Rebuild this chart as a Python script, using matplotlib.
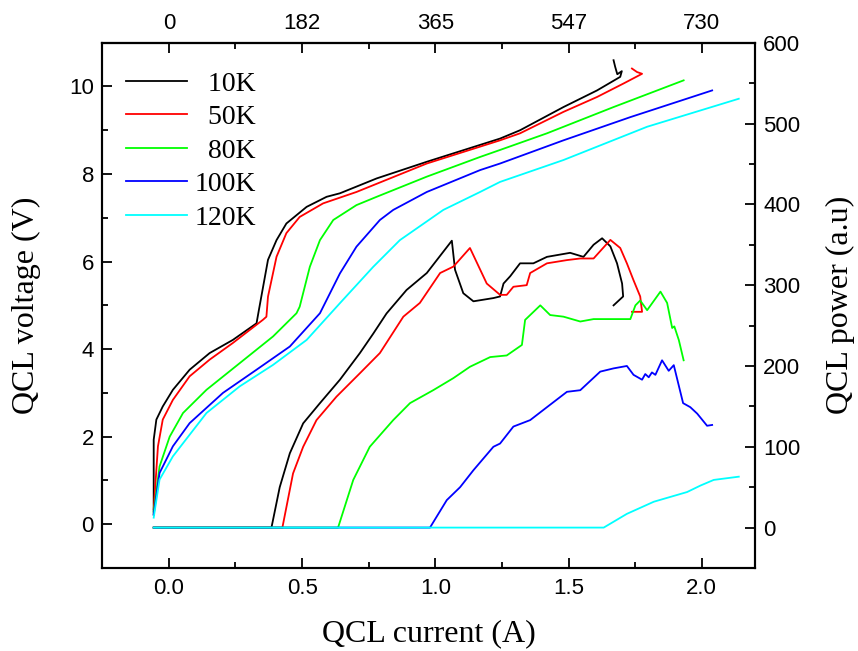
import numpy as np
import matplotlib
matplotlib.use('Agg')
import matplotlib.pyplot as plt

plt.rcParams['font.family'] = ['Liberation Sans', 'DejaVu Sans']

# I-V curves (current A, voltage V)
i_10k = [-0.057, -0.057, -0.047, -0.023, 0.015, 0.078, 0.153, 0.24, 0.329, 0.338, 0.372, 0.404, 0.441,
         0.517, 0.592, 0.642, 0.78, 0.968, 1.243, 1.318, 1.481, 1.607, 1.694, 1.700, 1.683, 1.675, 1.669]
v_10k = [0.22, 1.93, 2.39, 2.69, 3.07, 3.53, 3.91, 4.21, 4.59, 4.9, 6.04, 6.49, 6.87,
         7.25, 7.48, 7.56, 7.9, 8.28, 8.81, 9.0, 9.53, 9.91, 10.22, 10.35, 10.28, 10.45, 10.6]
i_50k = [-0.057, -0.041, -0.023, 0.015, 0.078, 0.153, 0.24, 0.353, 0.366, 0.372, 0.404, 0.441, 0.491,
         0.579, 0.704, 0.968, 1.243, 1.318, 1.481, 1.607, 1.707, 1.776, 1.757, 1.738]
v_50k = [0.34, 1.78, 2.39, 2.84, 3.38, 3.76, 4.14, 4.67, 4.74, 5.2, 6.11, 6.65, 7.02,
         7.33, 7.59, 8.24, 8.77, 8.93, 9.42, 9.76, 10.07, 10.29, 10.33, 10.41]
i_80k = [-0.057, -0.035, 0.003, 0.053, 0.141, 0.266, 0.391, 0.479, 0.491, 0.529, 0.567, 0.617, 0.704,
         0.78, 0.968, 1.168, 1.243, 1.419, 1.669, 1.932]
v_80k = [0.29, 1.32, 2.0, 2.54, 3.07, 3.68, 4.29, 4.82, 4.97, 5.88, 6.49, 6.95, 7.29,
         7.48, 7.94, 8.39, 8.55, 8.93, 9.53, 10.14]
i_100k = [-0.057, -0.035, 0.015, 0.078, 0.203, 0.329, 0.454, 0.567, 0.642, 0.704, 0.792, 0.842,
          0.968, 1.168, 1.243, 1.481, 1.732, 2.039]
v_100k = [0.22, 1.17, 1.78, 2.31, 3.0, 3.53, 4.06, 4.82, 5.73, 6.34, 6.95, 7.18,
          7.59, 8.09, 8.24, 8.77, 9.3, 9.91]
i_120k = [-0.057, -0.035, 0.015, 0.141, 0.266, 0.391, 0.517, 0.642, 0.767, 0.867, 1.03, 1.168,
          1.243, 1.481, 1.795, 2.139]
v_120k = [0.15, 1.02, 1.55, 2.54, 3.15, 3.64, 4.21, 5.05, 5.88, 6.49, 7.18, 7.59,
          7.82, 8.32, 9.08, 9.72]

# L-I curves (current A, power a.u)
pi_10k = [-0.057, 0.385, 0.416, 0.454, 0.504, 0.567, 0.642, 0.717, 0.767, 0.817, 0.892, 0.968, 1.062,
          1.074, 1.105, 1.143, 1.218, 1.243, 1.256, 1.281, 1.318, 1.368, 1.419, 1.506, 1.556, 1.594,
          1.626, 1.657, 1.682, 1.701, 1.705, 1.669]
p_10k = [0, 0, 50, 92, 129, 154, 183, 216, 240, 265, 294, 315, 355,
         319, 290, 280, 284, 286, 302, 311, 327, 327, 335, 340, 335, 350,
         358, 348, 327, 302, 286, 275]
pi_50k = [-0.057, 0.426, 0.466, 0.504, 0.554, 0.629, 0.717, 0.792, 0.88, 0.942, 1.018, 1.068, 1.13,
          1.193, 1.243, 1.268, 1.293, 1.343, 1.356, 1.419, 1.494, 1.544, 1.594, 1.657, 1.694, 1.719,
          1.744, 1.769, 1.776, 1.738]
p_50k = [0, 0, 67, 100, 133, 162, 191, 216, 261, 278, 315, 323, 346,
         302, 288, 288, 298, 300, 315, 327, 331, 333, 333, 356, 346, 327,
         306, 286, 267, 267]
pi_80k = [-0.057, 0.635, 0.692, 0.754, 0.842, 0.905, 0.992, 1.068, 1.13, 1.206, 1.268, 1.325, 1.337,
          1.356, 1.394, 1.431, 1.481, 1.544, 1.594, 1.669, 1.732, 1.751, 1.769, 1.795, 1.845, 1.87,
          1.889, 1.897, 1.914, 1.932]
p_80k = [0, 0, 59, 100, 133, 154, 170, 185, 199, 211, 213, 226, 257,
         263, 275, 263, 261, 255, 258, 258, 258, 275, 281, 269, 292, 278,
         247, 249, 232, 207]
pi_100k = [-0.057, 0.98, 1.043, 1.093, 1.143, 1.218, 1.243, 1.293, 1.356, 1.419, 1.494, 1.544, 1.619,
           1.669, 1.719, 1.744, 1.776, 1.788, 1.801, 1.813, 1.826, 1.851, 1.876, 1.895, 1.93, 1.957,
           1.983, 2.02, 2.039]
p_100k = [0, 0, 34, 50, 71, 100, 104, 125, 133, 149, 168, 170, 193,
          197, 200, 189, 183, 190, 186, 192, 189, 207, 194, 201, 154, 149,
          141, 126, 127]
pi_120k = [-0.057, 1.632, 1.719, 1.82, 1.945, 1.995, 2.045, 2.139]
p_120k = [0, 0, 17, 32, 44, 52, 59, 63]

labels = ['  10K', '  50K', '  80K', '100K', '120K']
colors = ['black', '#FF0000', '#00FF00', '#0000FF', '#00FFFF']

top_ticks = [0, 0.5, 1.0, 1.5, 2.0]
top_labels = ['0', '182', '365', '547', '730']

fig = plt.figure(figsize=(8.58, 6.51), dpi=100)
ax = fig.add_axes([0.1192, 0.1275, 0.7608, 0.8069])
ax2 = ax.twinx()

iv = [(i_10k, v_10k), (i_50k, v_50k), (i_80k, v_80k), (i_100k, v_100k), (i_120k, v_120k)]
li = [(pi_10k, p_10k), (pi_50k, p_50k), (pi_80k, p_80k), (pi_100k, p_100k), (pi_120k, p_120k)]

for (x, y), c, lab in zip(iv, colors, labels):
    ax.plot(x, y, color=c, lw=1.3, label=lab)
for (x, y), c in zip(li, colors):
    ax2.plot(x, y, color=c, lw=1.3)

ax.set_xlim(-0.25, 2.2)
ax.set_ylim(-1, 11)
ax2.set_ylim(-50, 600)

ax.set_xticks([0, 0.5, 1.0, 1.5, 2.0])
ax.set_xticks(np.arange(-0.25, 2.21, 0.25), minor=True)
ax.set_yticks([0, 2, 4, 6, 8, 10])
ax.set_yticks(np.arange(-1, 11.1, 1), minor=True)
ax2.set_yticks([0, 100, 200, 300, 400, 500, 600])
ax2.set_yticks(np.arange(-50, 601, 50), minor=True)

top = ax.secondary_xaxis('top')
top.set_xticks(top_ticks, labels=top_labels)
top.set_xticks(np.arange(0.25, 2.1, 0.5), minor=True)

for a in (ax, ax2, top):
    a.tick_params(which='major', direction='in', length=7, width=1.3, labelsize=16)
    a.tick_params(which='minor', direction='in', length=4, width=1.3)
ax.tick_params(axis='x', pad=7)
ax.tick_params(axis='y', pad=6)
ax2.tick_params(axis='y', pad=6)
top.tick_params(pad=6)

for a in (ax, ax2):
    for s in a.spines.values():
        s.set_linewidth(1.5)
top.spines['top'].set_linewidth(1.5)

serif = ['Liberation Serif', 'DejaVu Serif']
ax.set_xlabel('QCL current (A)', fontsize=23, family=serif, labelpad=15)
ax.set_ylabel('QCL voltage (V)', fontsize=23, family=serif, labelpad=20)
ax2.set_ylabel('QCL power (a.u)', fontsize=23, family=serif, labelpad=18)

ax.legend(loc='upper left', bbox_to_anchor=(0.036, 0.946), frameon=False, borderpad=0,
          borderaxespad=0, handlelength=2.2, handletextpad=0.27, labelspacing=0.29,
          prop={'family': serif, 'size': 20})

plt.savefig('out.png', dpi=100)
